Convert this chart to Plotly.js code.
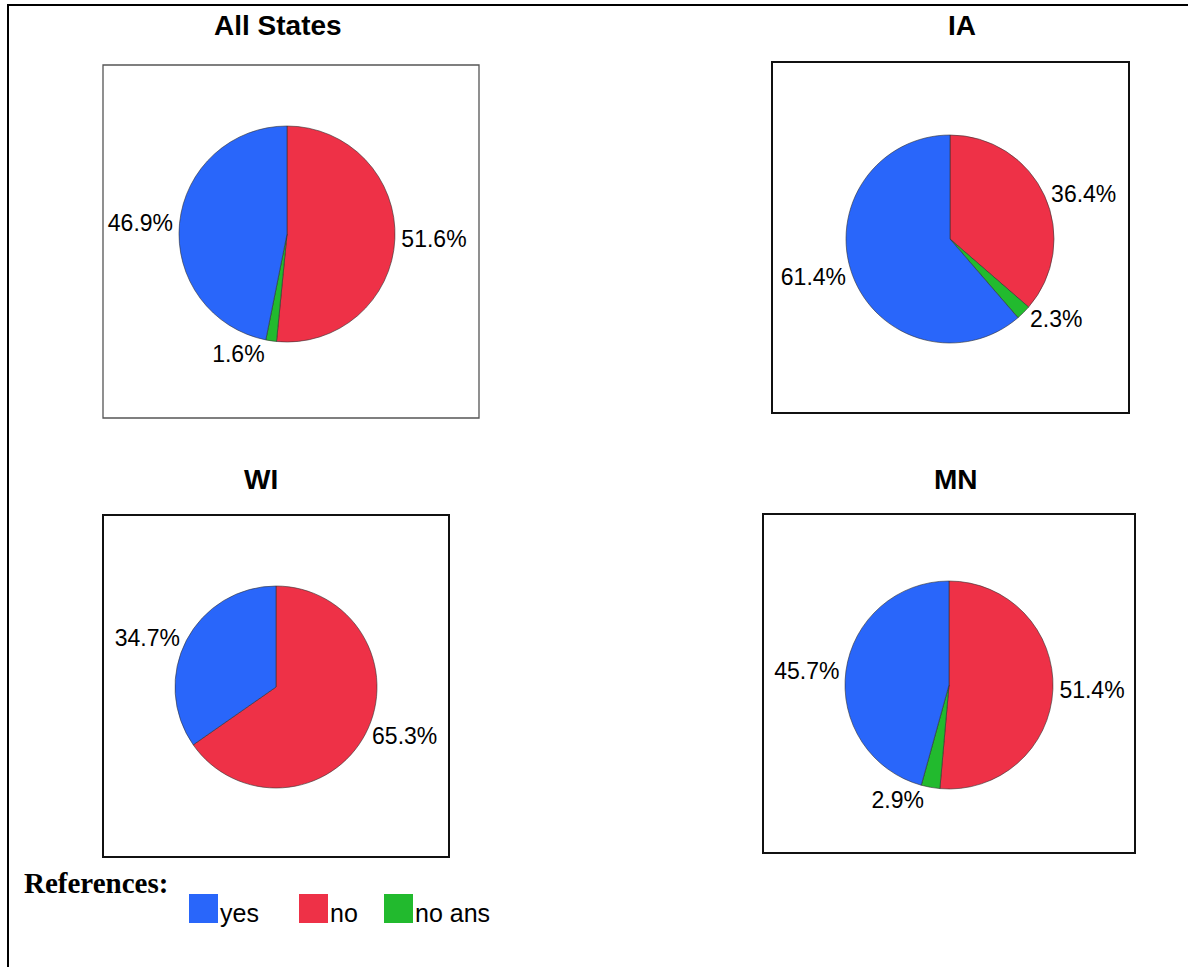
<!DOCTYPE html>
<html>
<head>
<meta charset="utf-8">
<script src="https://cdn.plot.ly/plotly-3.0.1.min.js"></script>
<style>html,body{margin:0;padding:0;background:#fff;}#chart{width:1188px;height:967px;}</style>
</head>
<body>
<div id="chart"></div>
<script>
// ---- data ----
const categories = ['yes', 'no', 'no ans'];
const panelTitles = ['All States', 'IA', 'WI', 'MN'];
const allStatesValues = [46.9, 51.6, 1.6];
const iaValues = [61.4, 36.4, 2.3];
const wiValues = [34.7, 65.3, 0];
const mnValues = [45.7, 51.4, 2.9];
const legendTitle = 'References:';

// ---- style / geometry ----
const W = 1188, H = 967;
const colors = ['#2966FA', '#EE3147', '#22BA2E'];
const sliceOrder = [1, 2, 0]; // no, no ans, yes (clockwise from 12 o'clock)
const panelValues = [allStatesValues, iaValues, wiValues, mnValues];
const geom = [
  {cx: 287, cy: 234, r: 108, box: [103, 65, 479, 418], boxColor: '#555', boxW: 1.3, tx: 278, ty: 25},
  {cx: 950, cy: 239, r: 104, box: [772, 62, 1129, 413], boxColor: '#111', boxW: 2, tx: 962, ty: 25},
  {cx: 276, cy: 687, r: 101, box: [103, 515, 449, 857], boxColor: '#111', boxW: 2, tx: 261, ty: 479},
  {cx: 949, cy: 685, r: 104, box: [763, 514, 1135, 853], boxColor: '#111', boxW: 2, tx: 956, ty: 479}
];
const px = x => x / W;
const py = y => 1 - y / H;

const traces = panelValues.map((vals, i) => {
  const g = geom[i];
  const idx = sliceOrder.filter(k => vals[k] > 0);
  return {
    type: 'pie',
    labels: idx.map(k => categories[k]),
    values: idx.map(k => vals[k]),
    marker: {colors: idx.map(k => colors[k]), line: {color: '#333', width: 0.6}},
    sort: false,
    direction: 'clockwise',
    rotation: 0,
    textposition: 'outside',
    texttemplate: '%{value:.1f}%',
    textfont: {family: 'Liberation Sans, Arial, sans-serif', size: 23, color: '#000'},
    showlegend: false,
    hoverinfo: 'label+value',
    domain: {x: [px(g.cx - g.r), px(g.cx + g.r)], y: [py(g.cy + g.r), py(g.cy - g.r)]}
  };
});

const shapes = [];
const annotations = [];
// outer frame
shapes.push({type: 'line', xref: 'paper', yref: 'paper', x0: px(7), x1: px(W + 5), y0: py(5), y1: py(5), line: {color: '#000', width: 2}});
shapes.push({type: 'line', xref: 'paper', yref: 'paper', x0: px(8), x1: px(8), y0: py(5), y1: py(H + 5), line: {color: '#000', width: 2}});

geom.forEach((g, i) => {
  shapes.push({type: 'rect', xref: 'paper', yref: 'paper', layer: 'below',
    x0: px(g.box[0]), x1: px(g.box[2]), y0: py(g.box[3]), y1: py(g.box[1]),
    line: {color: g.boxColor, width: g.boxW}, fillcolor: 'rgba(0,0,0,0)'});
  annotations.push({xref: 'paper', yref: 'paper', x: px(g.tx), y: py(g.ty), xanchor: 'center', yanchor: 'middle',
    showarrow: false, text: '<b>' + panelTitles[i] + '</b>',
    font: {family: 'Liberation Sans, Arial, sans-serif', size: 28, color: '#000'}});
});

// custom legend
annotations.push({xref: 'paper', yref: 'paper', x: px(22), y: py(883), xanchor: 'left', yanchor: 'middle',
  showarrow: false, text: '<b>' + legendTitle + '</b>',
  font: {family: 'Liberation Serif, Times New Roman, serif', size: 29, color: '#000'}});
const swatchX = [189, 299, 384];
categories.forEach((c, k) => {
  shapes.push({type: 'rect', xref: 'paper', yref: 'paper', x0: px(swatchX[k]), x1: px(swatchX[k] + 29),
    y0: py(923), y1: py(894), line: {width: 0}, fillcolor: colors[k]});
  annotations.push({xref: 'paper', yref: 'paper', x: px(swatchX[k] + 29), y: py(913), xanchor: 'left', yanchor: 'middle',
    showarrow: false, text: c, font: {family: 'Liberation Sans, Arial, sans-serif', size: 25, color: '#000'}});
});

const layout = {
  width: W, height: H,
  margin: {l: 0, r: 0, t: 0, b: 0},
  paper_bgcolor: '#fff', plot_bgcolor: '#fff',
  showlegend: false,
  shapes: shapes,
  annotations: annotations
};
Plotly.newPlot('chart', traces, layout, {displayModeBar: false, staticPlot: true});
</script>
</body>
</html>
